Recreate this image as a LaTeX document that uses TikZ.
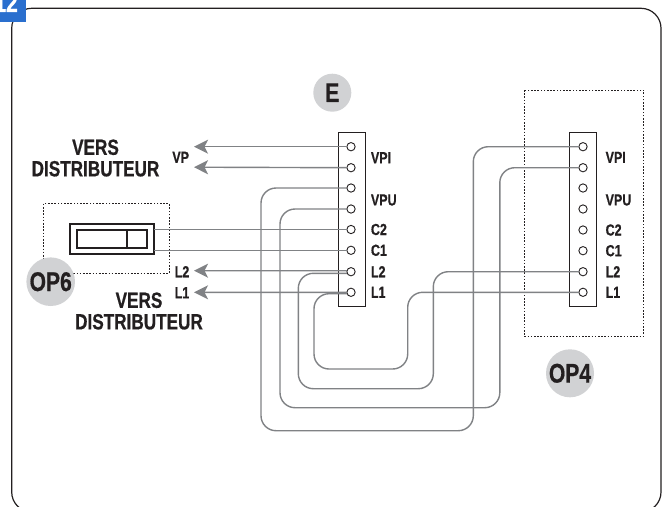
\documentclass[tikz,border=0pt]{standalone}
\usepackage{fontspec}
\setmainfont{Liberation Sans}[FakeStretch=0.78,BoldFeatures={FakeBold=0.6}]
\usetikzlibrary{positioning,arrows.meta}

\definecolor{ink}{HTML}{231F20}
\definecolor{wirecol}{HTML}{808285}
\definecolor{badge}{HTML}{D1D2D4}
\definecolor{tabblue}{HTML}{2A6FCE}

\tikzset{
  block/.style={draw=ink, line width=0.9pt, inner sep=0pt, outer sep=0pt, fill=white, minimum width=27pt, minimum height=174pt},
  term/.style={circle, draw=ink, line width=0.9pt, fill=white, inner sep=0pt, outer sep=0pt, minimum size=8.3pt},
  tag/.style={inner sep=0pt, outer sep=0pt, text=ink, font=\fontsize{16}{16}\selectfont\bfseries},
  head/.style={inner sep=0pt, outer sep=0pt, text=ink, align=center, font=\fontsize{22}{21.5}\selectfont\bfseries},
  badgenode/.style={circle, fill=badge, inner sep=0pt, text=ink, font=\fontsize{27}{27}\selectfont\bfseries},
  wire/.style={draw=wirecol, line width=1.4pt, rounded corners=15pt},
  feed/.style={draw=wirecol, line width=1.4pt, -{Stealth[length=14pt,width=14pt,inset=3.5pt]}},
  zone/.style={draw=ink, line width=0.8pt, dash pattern=on 1.6pt off 1.6pt},
  swbox/.style={draw=ink, line width=1.8pt, inner sep=0pt, outer sep=0pt}
}

\begin{document}
\begin{tikzpicture}[x=1pt,y=-1pt]

  \clip (0,0) rectangle (668,506);
  \fill[white] (0,0) rectangle (668,506);

  \draw[ink, line width=1.2pt, rounded corners=20pt] (11.7,8.3) rectangle (661,512);
  \fill[tabblue] (0,0) rectangle (26,22);
  \node[anchor=base east, inner sep=0pt, text=white, font=\fontsize{27}{27}\selectfont\bfseries] (tab_no) at (18,12) {12};

  %==================================================

  \draw[zone] (43.7,203.7) rectangle (169,273.3);
  \draw[zone] (524.3,90) rectangle (643.7,336.3);

  \node[swbox, minimum width=84pt, minimum height=30pt] (sw) at (112,239) {};
  \node[swbox, minimum width=50pt, minimum height=18.6pt] (sw_a) at (101.7,239) {};
  \node[swbox, minimum width=20.6pt, minimum height=18.6pt, right=0pt of sw_a] (sw_b) {};

  %==================================================

  \node[block] (e_block) at (351.5,219) {};
  \node[term] (e_vpi1) at (351,146.7) {};
  \node[term, below=12.7pt of e_vpi1] (e_vpi2) {};
  \node[term, below=12pt of e_vpi2] (e_vpu1) {};
  \node[term, below=12.7pt of e_vpu1] (e_vpu2) {};
  \node[term, below=12.2pt of e_vpu2] (e_c2) {};
  \node[term, below=12.5pt of e_c2] (e_c1) {};
  \node[term, below=13.1pt of e_c1] (e_l2) {};
  \node[term, below=12.3pt of e_l2] (e_l1) {};

  \node[tag, right=15.8pt of e_vpi1, yshift=-11pt] (e_vpi_txt) {VPI};
  \node[tag, right=15.8pt of e_vpu1, yshift=-12pt] (e_vpu_txt) {VPU};
  \node[tag, right=15.8pt of e_c2] (e_c2_txt) {C2};
  \node[tag, right=15.8pt of e_c1] (e_c1_txt) {C1};
  \node[tag, right=15.8pt of e_l2] (e_l2_txt) {L2};
  \node[tag, right=15.8pt of e_l1] (e_l1_txt) {L1};

  %==================================================

  \node[block] (op4_block) at (583.4,219) {};
  \node[term] (op4_vpi1) at (583,146.7) {};
  \node[term, below=12.7pt of op4_vpi1] (op4_vpi2) {};
  \node[term, below=12pt of op4_vpi2] (op4_vpu1) {};
  \node[term, below=12.7pt of op4_vpu1] (op4_vpu2) {};
  \node[term, below=12.7pt of op4_vpu2] (op4_c2) {};
  \node[term, below=12.4pt of op4_c2] (op4_c1) {};
  \node[term, below=12.7pt of op4_c1] (op4_l2) {};
  \node[term, below=12.3pt of op4_l2] (op4_l1) {};

  \node[tag, right=18.5pt of op4_vpi1, yshift=-10.7pt] (op4_vpi_txt) {VPI};
  \node[tag, right=18.5pt of op4_vpu1, yshift=-12pt] (op4_vpu_txt) {VPU};
  \node[tag, right=18.5pt of op4_c2] (op4_c2_txt) {C2};
  \node[tag, right=18.5pt of op4_c1] (op4_c1_txt) {C1};
  \node[tag, right=18.5pt of op4_l2] (op4_l2_txt) {L2};
  \node[tag, right=18.5pt of op4_l1] (op4_l1_txt) {L1};

  %==================================================

  \node[head] (vers_top) at (95.5,158) {VERS\\DISTRIBUTEUR};
  \node[head] (vers_bot) at (139,311) {VERS\\DISTRIBUTEUR};
  \node[tag] (vp_txt) at (180.7,157.3) {VP};
  \node[tag] (l2_txt) at (182,271.7) {L2};
  \node[tag] (l1_txt) at (182,292.7) {L1};

  \coordinate (vp_a) at (194,146.7);
  \coordinate (vp_b) at (194,167.2);
  \coordinate (l2_a) at (194,270.7);
  \coordinate (l1_a) at (194,292.3);

  \draw[feed] (e_vpi1.west) -- (vp_a);
  \draw[feed] (e_vpi2.west) -- (vp_b);
  \draw[feed] ([yshift=1pt]e_l2.west) -- (l2_a);
  \draw[feed] (e_l1.west) -- (l1_a);

  \draw[wire] (e_c2.west) -- (e_c2.west -| sw.east);
  \draw[wire] (e_c1.west) -- (e_c1.west -| sw.east);

  %==================================================

  \draw[wire] (e_vpu1.west) -| (261,430.7) -- (473.3,430.7) |- (op4_vpi1.west);
  \draw[wire] (e_vpu2.west) -| (280,407.7) -- (499.8,407.7) |- (op4_vpi2.west);
  \draw[wire] ([yshift=-1.6pt]e_l2.west) -| (298.3,388.7) -- (433.3,388.7) |- (op4_l2.west);
  \draw[wire] ([yshift=-1.4pt]e_l1.west) -| (314,369) -- (407.7,369) |- (op4_l1.west);

  %==================================================

  \node[badgenode, minimum size=38pt] (e_badge) at (332.3,92.7) {E};
  \node[badgenode, minimum size=48.6pt] (op6_badge) at (50.7,281.7) {OP6};
  \node[badgenode, minimum size=48pt] (op4_badge) at (570,373.3) {OP4};

\end{tikzpicture}
\end{document}
